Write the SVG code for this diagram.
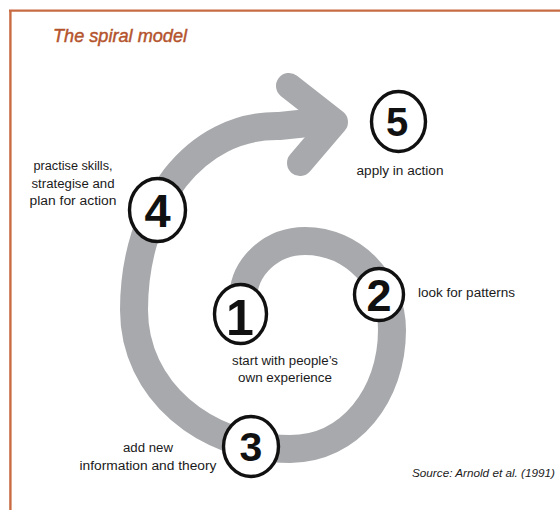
<svg xmlns="http://www.w3.org/2000/svg" width="560" height="510" viewBox="0 0 560 510">
  <style>
    .frame { stroke: #c96b42; stroke-width: 2.4; fill: none; }
    .title { font-family: "Liberation Sans", Arial, sans-serif; font-style: italic; font-size: 19px; fill: #b4532c; stroke: #b4532c; stroke-width: 0.45; }
    .band { fill: none; stroke: #a7a9ac; stroke-width: 28; }
    .head { fill: none; stroke: #a7a9ac; stroke-width: 26; stroke-linejoin: round; stroke-linecap: round; }
    .ring { fill: #ffffff; stroke: #111111; stroke-width: 3.4; }
    .num { font-family: "Liberation Sans", Arial, sans-serif; font-weight: bold; fill: #111111; text-anchor: middle; }
    .lbl { font-family: "Liberation Sans", Arial, sans-serif; font-size: 12.5px; fill: #1a1a1a; }
    .mid { text-anchor: middle; }
    .src { font-family: "Liberation Sans", Arial, sans-serif; font-style: italic; font-size: 11.5px; fill: #1a1a1a; }
  </style>

  <!-- frame -->
  <line class="frame" x1="9" y1="10.6" x2="560" y2="10.6"/>
  <line class="frame" x1="10.4" y1="10" x2="10.4" y2="510"/>

  <text class="title" x="53" y="42" textLength="134" lengthAdjust="spacingAndGlyphs">The spiral model</text>

  <!-- spiral band ending in an arrow -->
  <g id="connectors">
    <path class="band" d="M243,300 C243,266 272,241 305,241 C353,241 392,282 392,330 C392,395 350,449 290,449 C205,449 134,390 134,310 C134,205 195,124 280,126 L327,121"/>
    <polyline class="head" points="289,86 335,122 300,163"/>
  </g>

  <g id="step1">
    <ellipse class="ring" cx="240.5" cy="314" rx="26" ry="29.5"/>
    <text class="num" x="240" y="335" font-size="50">1</text>
    <text class="lbl mid" x="285" y="365" textLength="106" lengthAdjust="spacingAndGlyphs">start with people’s</text>
    <text class="lbl mid" x="285" y="382" textLength="94" lengthAdjust="spacingAndGlyphs">own experience</text>
  </g>

  <g id="step2">
    <ellipse class="ring" cx="379" cy="294.5" rx="24.5" ry="26"/>
    <text class="num" x="379" y="311" font-size="45">2</text>
    <text class="lbl" x="418" y="297" textLength="97" lengthAdjust="spacingAndGlyphs">look for patterns</text>
  </g>

  <g id="step3">
    <ellipse class="ring" cx="251" cy="446.5" rx="27.5" ry="30"/>
    <text class="num" x="251" y="461" font-size="41">3</text>
    <text class="lbl mid" x="148" y="452" textLength="50" lengthAdjust="spacingAndGlyphs">add new</text>
    <text class="lbl mid" x="148" y="470" textLength="137" lengthAdjust="spacingAndGlyphs">information and theory</text>
  </g>

  <g id="step4">
    <ellipse class="ring" cx="157.5" cy="210" rx="28" ry="31.5"/>
    <text class="num" x="157.5" y="227" font-size="47">4</text>
    <text class="lbl mid" x="73" y="170" textLength="79" lengthAdjust="spacingAndGlyphs">practise skills,</text>
    <text class="lbl mid" x="73" y="188" textLength="83" lengthAdjust="spacingAndGlyphs">strategise and</text>
    <text class="lbl mid" x="73" y="205" textLength="87" lengthAdjust="spacingAndGlyphs">plan for action</text>
  </g>

  <g id="step5">
    <ellipse class="ring" cx="398.5" cy="121.5" rx="27" ry="30"/>
    <text class="num" x="397" y="136" font-size="40">5</text>
    <text class="lbl mid" x="400" y="175" textLength="87" lengthAdjust="spacingAndGlyphs">apply in action</text>
  </g>

  <text class="src" x="412" y="477" textLength="143" lengthAdjust="spacingAndGlyphs">Source: Arnold et al. (1991)</text>
</svg>
